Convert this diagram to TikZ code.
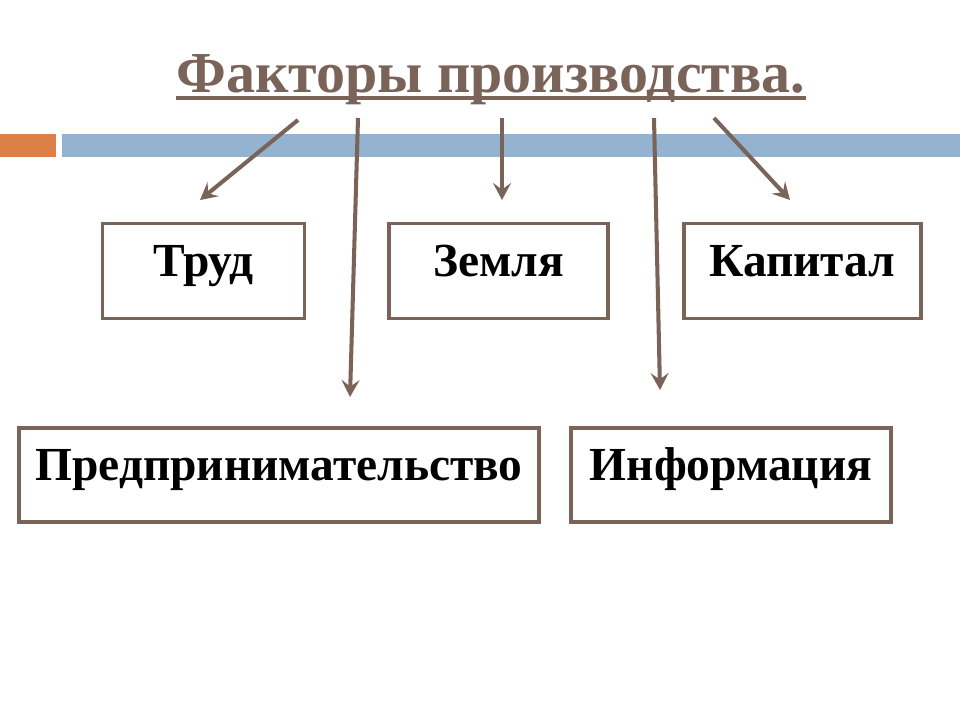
\documentclass[tikz,border=0pt]{standalone}
\usepackage{fontspec}
\setmainfont{Liberation Serif}
\usetikzlibrary{arrows.meta}
\usetikzlibrary{positioning}
\definecolor{taupe}{RGB}{122,99,88}
\definecolor{barblue}{RGB}{148,179,208}
\definecolor{barorange}{RGB}{221,128,71}
\tikzset{
  factor/.style={
    draw=taupe, line width=2pt, inner sep=0,
    minimum height=1.9cm,
    text height=0.55cm, text depth=0.35cm,
    font=\fontsize{27}{28}\selectfont\bfseries
  },
  arrow/.style={-{Stealth[length=3.4mm, width=3.6mm, inset=1.3mm]}, line width=2.3pt, draw=taupe}
}

\begin{document}
\begin{tikzpicture}[x=0.02cm, y=-0.02cm]
  \useasboundingbox (0,0) rectangle (960,720);
  % bars
  \fill[barorange] (0,134) rectangle (56,157);
  \fill[barblue] (62,134) rectangle (960,157);
  % title
  \node[anchor=base west, inner sep=0, text=taupe,
        font=\fontsize{33}{35}\selectfont\bfseries] (title) at (176,92) {Факторы производства.};
  \draw[taupe, line width=2.5pt] ([yshift=-0.12cm]title.base west) -- ([yshift=-0.12cm]title.base east);
  % boxes
  \node[factor, minimum width=4.04cm] (trud) at (203.5,271) {Труд};
  \node[factor, minimum width=4.38cm] (zemlya) at (498.5,271) {Земля};
  \node[factor, minimum width=4.74cm] (kapital) at (802.5,271) {Капитал};
  \node[factor, minimum width=10.4cm, minimum height=1.88cm] (predpr) at (279,475) {Предпринимательство};
  \node[factor, minimum width=6.4cm, minimum height=1.88cm] (inform) at (731,475) {Информация};
  % arrows
  \coordinate (s1) at (298,120); \coordinate (e1) at (200,200);
  \coordinate (s2) at (358,118); \coordinate (e2) at (350,397);
  \coordinate (s3) at (502,118); \coordinate (e3) at (502,200);
  \coordinate (s4) at (654,118); \coordinate (e4) at (660,390);
  \coordinate (s5) at (714,118); \coordinate (e5) at (790,200);
  \foreach \i in {1,...,5}
    \draw[arrow] (s\i) -- (e\i);
\end{tikzpicture}
\end{document}
